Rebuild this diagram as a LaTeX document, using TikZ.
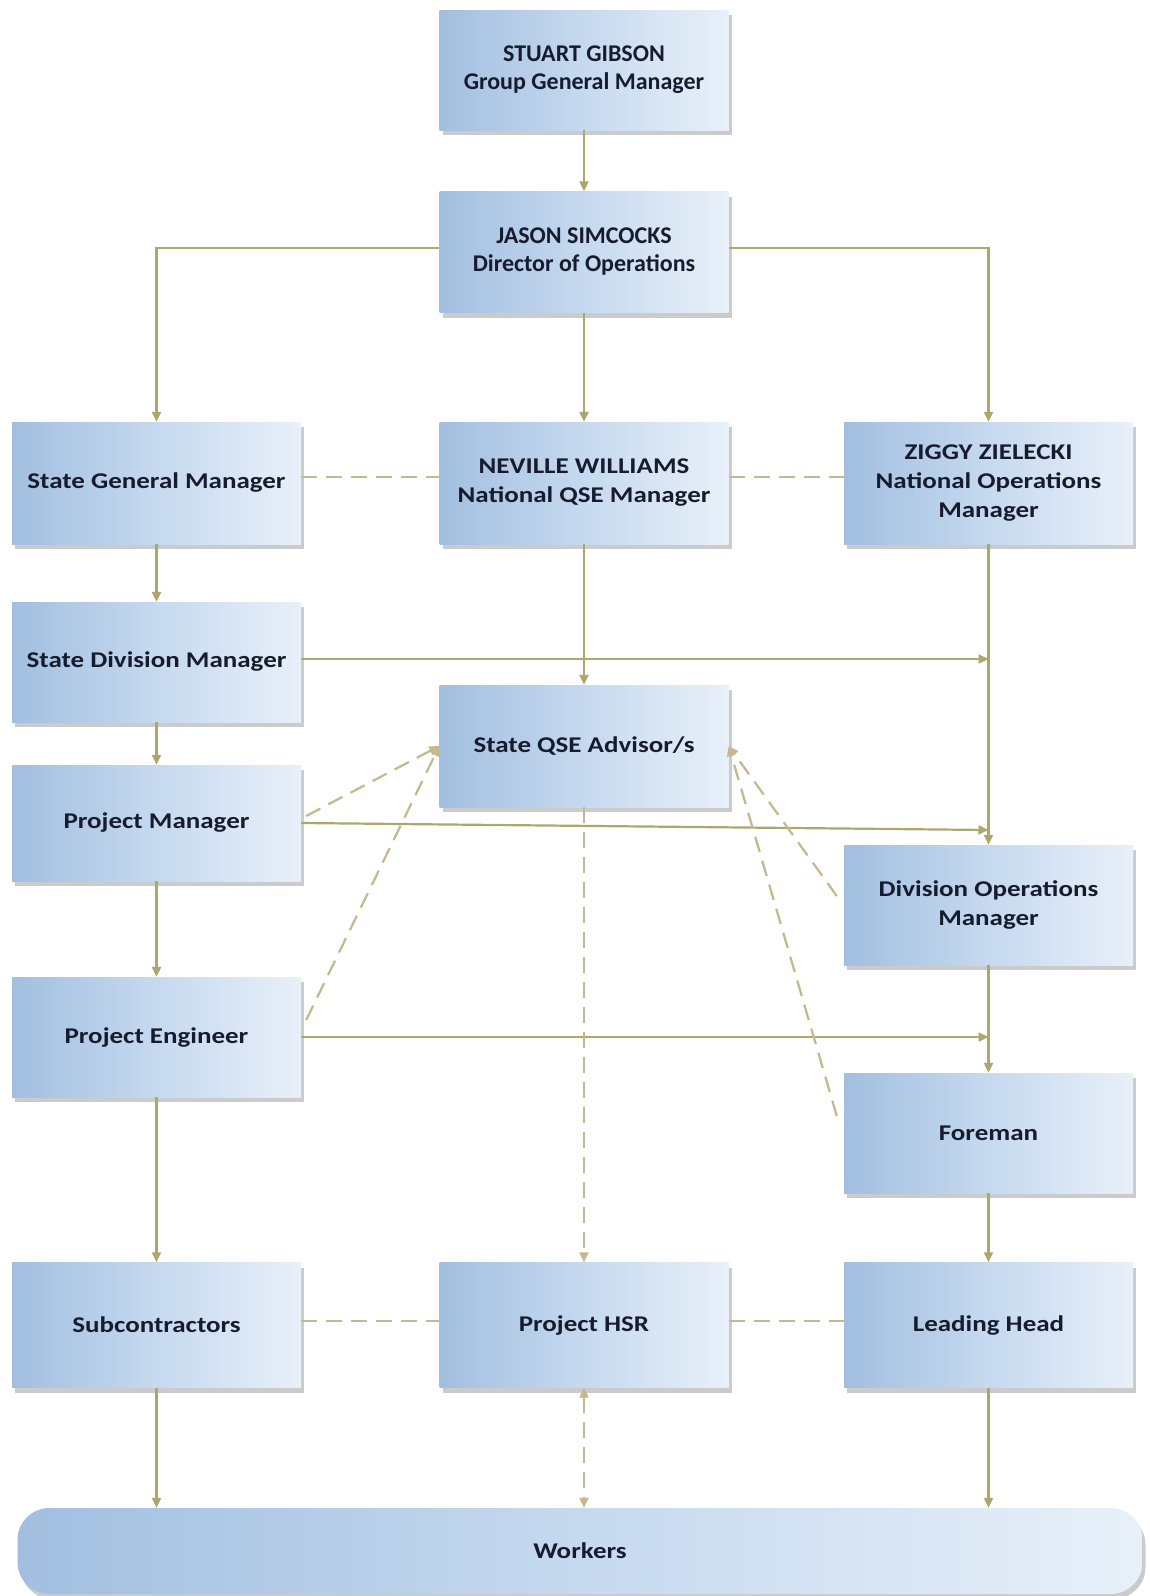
\documentclass[tikz,border=0pt]{standalone}
\usepackage{fontspec}
\setmainfont{Carlito}
\newfontfamily\widefont{Carlito}[FakeStretch=1.2]
\usetikzlibrary{arrows.meta,shadows}
\definecolor{lineC}{RGB}{172,168,108}
\definecolor{dashC}{RGB}{196,184,140}
\definecolor{boxL}{RGB}{162,191,224}
\definecolor{boxM}{RGB}{198,217,239}
\definecolor{boxR}{RGB}{232,240,249}
\definecolor{txt}{RGB}{22,28,46}
\begin{document}
\begin{tikzpicture}[x=1pt,y=-1pt,
 box/.style={rectangle, minimum width=289pt, minimum height=120pt, left color=boxL, right color=boxR, middle color=boxM,
   drop shadow={shadow xshift=3pt,shadow yshift=-5pt,fill=black!40,opacity=.5},
   align=center, text=txt, font=\widefont\bfseries\fontsize{22.5}{29}\selectfont, inner sep=4pt},
 topbox/.style={box, font=\bfseries\fontsize{24}{28}\selectfont},
 tip/.tip={Triangle[length=10pt,width=9pt]},
 arr/.style={draw=lineC, line width=2.2pt, -tip},
 dsh/.style={draw=dashC, line width=2.2pt, dash pattern=on 16pt off 9pt},
 darr/.style={dsh, -tip},
]
\fill[white] (0,0) rectangle (1150,1596);
\useasboundingbox (0,0) rectangle (1150,1596);

\node[topbox] (stuart) at (584,70) {STUART GIBSON\\Group General Manager};
\node[topbox, minimum height=121pt] (jason) at (584,252) {JASON SIMCOCKS\\Director of Operations};
\node[box, minimum height=122pt] (sgm) at (156.5,483) {State General Manager};
\node[box, minimum height=122pt] (nev) at (584,483) {NEVILLE WILLIAMS\\National QSE Manager};
\node[box, minimum height=122pt] (zig) at (988.5,483) {ZIGGY ZIELECKI\\National Operations\\Manager};
\node[box] (sdm) at (156.5,662) {State Division Manager};
\node[box, minimum height=122pt] (qse) at (584,746) {State QSE Advisor/s};
\node[box, minimum height=116pt] (pm) at (156.5,823) {Project Manager};
\node[box] (dom) at (988.5,905) {Division Operations\\Manager};
\node[box] (pe) at (156.5,1037) {Project Engineer};
\node[box] (fore) at (988.5,1133) {Foreman};
\node[box, minimum height=125pt] (sub) at (156.5,1325) {Subcontractors};
\node[box, minimum height=125pt] (hsr) at (584,1325) {Project HSR};
\node[box, minimum height=125pt] (lead) at (988.5,1325) {Leading Head};
\node[box, minimum width=1125pt, minimum height=86pt, rounded corners=32pt] (workers) at (580,1551) {Workers};

\coordinate (pmend) at (988.5,830);

% solid connectors
\draw[arr] (stuart.south) -- (jason.north);
\draw[arr] ([yshift=4pt]jason.west) -| (sgm.north);
\draw[arr] ([yshift=4pt]jason.east) -| (zig.north);
\draw[arr] (jason.south) -- (nev.north);
\draw[arr] (sgm.south) -- (sdm.north);
\draw[arr] (nev.south) -- (qse.north);
\draw[arr] (zig.south) -- (dom.north);
\draw[arr] ([yshift=3pt]sdm.east) -- ([yshift=3pt]sdm.east -| zig.south);
\draw[arr] (sdm.south) -- (pm.north);
\draw[arr] (pm.east) -- (pmend);
\draw[arr] (pm.south) -- (pe.north);
\draw[arr] (pe.east) -- (pe.east -| dom.south);
\draw[arr] (dom.south) -- (fore.north);
\draw[arr] (fore.south) -- (lead.north);
\draw[arr] (pe.south) -- (sub.north);
\draw[arr] (sub.south) -- (sub.south |- workers.north);
\draw[arr] (lead.south) -- (lead.south |- workers.north);

% dashed connectors
\draw[dsh] ([yshift=6pt]sgm.east) -- ([yshift=6pt]nev.west);
\draw[dsh] ([yshift=6pt]nev.east) -- ([yshift=6pt]zig.west);
\draw[dsh] ([yshift=4pt]sub.east) -- ([yshift=4pt]hsr.west);
\draw[dsh] ([yshift=4pt]hsr.east) -- ([yshift=4pt]lead.west);
\draw[darr] (qse.south) -- (hsr.north);
\draw[dsh, tip-tip] (hsr.south) -- (hsr.south |- workers.north);
\draw[darr] ([xshift=5pt,yshift=7pt]pm.east) -- (qse.west);
\draw[darr] ([xshift=5pt,yshift=17pt]pe.east) -- (qse.west);
\draw[darr] ([xshift=-7pt,yshift=9pt]dom.west) -- (qse.east);
\draw[darr] ([xshift=-7pt,yshift=17pt]fore.west) -- (qse.east);
\end{tikzpicture}
\end{document}
